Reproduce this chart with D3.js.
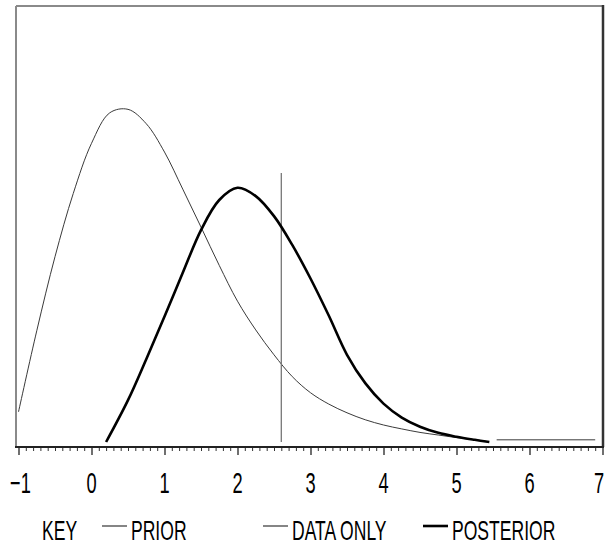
<!DOCTYPE html>
<html>
<head>
<meta charset="utf-8">
<script src="https://cdn.jsdelivr.net/npm/d3@7"></script>
<style>
  html, body { margin: 0; padding: 0; background: #fff; }
  svg { display: block; }
  text { font-family: "Liberation Sans Narrow", "Liberation Sans", Arial, sans-serif; fill: #000; }
</style>
</head>
<body>
<svg id="chart" width="606" height="547"></svg>
<script>
// Prior density (x, density); null marks a break in the line
const priorX = [-1.0, -0.75, -0.5, -0.25, 0.0, 0.25, 0.5, 0.75, 1.0, 1.25, 1.5, 1.75, 2.0, 2.25, 2.5, 2.75, 3.0, 3.25, 3.5, 3.75, 4.0, 4.25, 4.5, 4.75, 5.0, 5.25, 5.4, 5.47, 5.55, 6.9];
const priorY = [0.069, 0.255, 0.425, 0.570, 0.685, 0.755, 0.763, 0.730, 0.665, 0.580, 0.493, 0.405, 0.323, 0.257, 0.200, 0.150, 0.113, 0.087, 0.067, 0.051, 0.039, 0.030, 0.022, 0.016, 0.010, 0.005, 0.002, null, 0.005, 0.005];

// Posterior density
const postX = [0.2, 0.5, 0.75, 1.0, 1.25, 1.5, 1.75, 2.0, 2.25, 2.5, 2.75, 3.0, 3.25, 3.5, 3.75, 4.0, 4.25, 4.5, 4.75, 5.0, 5.25, 5.45];
const postY = [0.0, 0.096, 0.190, 0.288, 0.388, 0.486, 0.555, 0.583, 0.564, 0.518, 0.452, 0.375, 0.290, 0.200, 0.135, 0.088, 0.056, 0.035, 0.021, 0.012, 0.005, 0.0];

// Data-only estimate, drawn as a spike
const dataOnlyX = [2.6, 2.6];
const dataOnlyY = [0.0, 0.617];

// Axis ticks
const majorTicks = [-1, 0, 1, 2, 3, 4, 5, 6, 7];
const tickLabels = ["\u22121", "0", "1", "2", "3", "4", "5", "6", "7"];

// Legend
const legendKey = "KEY";
const legendNames = ["PRIOR", "DATA ONLY", "POSTERIOR"];

const svg = d3.select("#chart");

const x = d3.scaleLinear().domain([-1, 7]).range([18.5, 602.5]);
const y = d3.scaleLinear().domain([0, 1]).range([442, 6]);

const frame = { left: 16, top: 6, right: 603, bottom: 447 };
const narrow = 0.63;

// Plot frame
svg.append("line").attr("x1", frame.left).attr("x2", frame.right).attr("y1", frame.top).attr("y2", frame.top)
  .attr("stroke", "#8a8a8a").attr("stroke-width", 2);
svg.append("line").attr("x1", frame.left).attr("x2", frame.left).attr("y1", frame.top).attr("y2", frame.bottom)
  .attr("stroke", "#8a8a8a").attr("stroke-width", 2);
svg.append("line").attr("x1", frame.right).attr("x2", frame.right).attr("y1", frame.top - 1).attr("y2", frame.bottom)
  .attr("stroke", "#333").attr("stroke-width", 2.5);

// Bottom axis with major and minor ticks
const minorTicks = d3.range(-10, 71).map(d => d / 10).filter(d => Math.abs(d - Math.round(d)) > 1e-9);
const axisG = svg.append("g").attr("transform", `translate(0,${frame.bottom})`);
axisG.call(d3.axisBottom(x).tickValues(minorTicks).tickSize(4).tickFormat(""))
  .call(g => g.select(".domain").remove())
  .call(g => g.selectAll(".tick line").attr("stroke", "#333").attr("stroke-width", 1));
const majorG = svg.append("g").attr("transform", `translate(0,${frame.bottom})`);
majorG.call(d3.axisBottom(x).tickValues(majorTicks).tickSize(8).tickFormat(""))
  .call(g => g.select(".domain").remove())
  .call(g => g.selectAll(".tick line").attr("stroke", "#222").attr("stroke-width", 1.3));
svg.append("line").attr("x1", frame.left - 1).attr("x2", frame.right + 1).attr("y1", frame.bottom).attr("y2", frame.bottom)
  .attr("stroke", "#222").attr("stroke-width", 2);

svg.append("g").selectAll("text").data(majorTicks).join("text")
  .attr("transform", d => `translate(${Math.min(x(d), 599) + (d < 0 ? 2 : 0)},493) scale(${narrow},1)`)
  .attr("text-anchor", "middle")
  .attr("font-size", 29)
  .text((d, i) => tickLabels[i]);

// Curves
const line = d3.line()
  .defined(d => d[1] !== null)
  .x(d => x(d[0]))
  .y(d => y(d[1]))
  .curve(d3.curveCatmullRom.alpha(0.5));

const priorData = priorX.map((v, i) => [v, priorY[i]]);
const postData = postX.map((v, i) => [v, postY[i]]);
const dataOnly = dataOnlyX.map((v, i) => [v, dataOnlyY[i]]);

svg.append("path").datum(priorData).attr("d", line)
  .attr("fill", "none").attr("stroke", "#3a3a3a").attr("stroke-width", 1);

svg.append("path").datum(dataOnly).attr("d", d3.line().x(d => x(d[0])).y(d => y(d[1])))
  .attr("fill", "none").attr("stroke", "#777").attr("stroke-width", 1.3);

svg.append("path").datum(postData).attr("d", line)
  .attr("fill", "none").attr("stroke", "#000").attr("stroke-width", 2.6);

// Legend
const legendBase = 540;
const legendMid = 526;
const legendSize = 27;
svg.append("text")
  .attr("transform", `translate(42,${legendBase}) scale(${narrow + 0.02},1)`)
  .attr("font-size", legendSize)
  .text(legendKey);

const legendItems = [
  { name: legendNames[0], x0: 102, stroke: "#333", width: 1.2 },
  { name: legendNames[1], x0: 263, stroke: "#333", width: 1.2 },
  { name: legendNames[2], x0: 423, stroke: "#000", width: 2.6 }
];
const lg = svg.append("g").selectAll("g").data(legendItems).join("g");
lg.append("line")
  .attr("x1", d => d.x0).attr("x2", d => d.x0 + 25)
  .attr("y1", legendMid).attr("y2", legendMid)
  .attr("stroke", d => d.stroke).attr("stroke-width", d => d.width);
lg.append("text")
  .attr("transform", d => `translate(${d.x0 + 29},${legendBase}) scale(${narrow + 0.02},1)`)
  .attr("font-size", legendSize)
  .text(d => d.name);
</script>
</body>
</html>
